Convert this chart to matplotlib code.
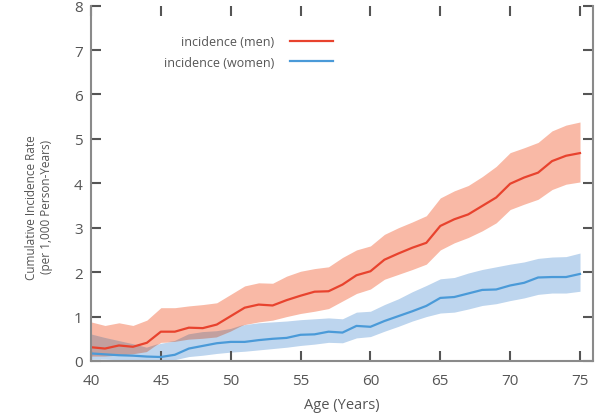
import matplotlib
matplotlib.use("Agg")
import matplotlib.pyplot as plt
import numpy as np

# ages 40..75, one reading per year
age = np.arange(40, 76)

men = [0.31, 0.28, 0.35, 0.32, 0.41, 0.66, 0.66, 0.75, 0.74, 0.82,
       1.01, 1.2, 1.27, 1.25, 1.37, 1.47, 1.56, 1.57, 1.72, 1.93,
       2.02, 2.28, 2.42, 2.55, 2.66, 3.04, 3.19, 3.3, 3.49, 3.68,
       3.99, 4.13, 4.24, 4.5, 4.62, 4.68]
men_hi = [0.88, 0.8, 0.86, 0.8, 0.92, 1.2, 1.2, 1.24, 1.27, 1.31,
          1.5, 1.69, 1.76, 1.75, 1.91, 2.02, 2.08, 2.12, 2.33, 2.5,
          2.59, 2.85, 3.0, 3.13, 3.27, 3.67, 3.83, 3.95, 4.15, 4.38,
          4.69, 4.8, 4.92, 5.18, 5.31, 5.38]
men_lo = [0.1, 0.1, 0.12, 0.15, 0.2, 0.42, 0.43, 0.48, 0.5, 0.53,
          0.66, 0.82, 0.88, 0.92, 1.0, 1.07, 1.12, 1.18, 1.35, 1.52,
          1.62, 1.84, 1.95, 2.06, 2.18, 2.5, 2.66, 2.78, 2.93, 3.11,
          3.41, 3.53, 3.64, 3.86, 3.98, 4.03]

women = [0.17, 0.15, 0.13, 0.12, 0.1, 0.09, 0.14, 0.28, 0.34, 0.4,
         0.43, 0.43, 0.47, 0.5, 0.52, 0.59, 0.6, 0.66, 0.64, 0.79,
         0.77, 0.9, 1.01, 1.12, 1.24, 1.42, 1.44, 1.52, 1.6, 1.61,
         1.7, 1.76, 1.88, 1.89, 1.89, 1.96]
women_hi = [0.6, 0.52, 0.45, 0.38, 0.3, 0.4, 0.45, 0.6, 0.65, 0.67,
            0.72, 0.82, 0.86, 0.88, 0.9, 0.93, 0.95, 0.97, 0.95, 1.1,
            1.12, 1.27, 1.4, 1.56, 1.7, 1.85, 1.88, 1.98, 2.06, 2.12,
            2.18, 2.23, 2.31, 2.34, 2.35, 2.43]
women_lo = [0.04, 0.04, 0.03, 0.03, 0.02, 0.01, 0.03, 0.1, 0.13, 0.17,
            0.2, 0.22, 0.25, 0.28, 0.31, 0.35, 0.38, 0.42, 0.41, 0.52,
            0.55, 0.67, 0.78, 0.9, 1.0, 1.08, 1.1, 1.17, 1.25, 1.29,
            1.36, 1.42, 1.5, 1.53, 1.53, 1.57]

xticks = [40, 45, 50, 55, 60, 65, 70, 75]
yticks = [0, 1, 2, 3, 4, 5, 6, 7, 8]

plt.rcParams['font.family'] = ['Open Sans', 'DejaVu Sans']

fig = plt.figure(figsize=(6, 4.14), dpi=100)
ax = fig.add_axes([91/600, 52/414, 502/600, 355.4/414])

ax.fill_between(age, men_lo, men_hi, color='#f9b9a6', lw=0)
ax.fill_between(age, women_lo, women_hi, color='#bdd5ee', lw=0)
# where the two bands cross, darker tone like the original
ov_lo = np.maximum(men_lo, women_lo)
ov_hi = np.minimum(men_hi, women_hi)
ax.fill_between(age, ov_lo, ov_hi, where=ov_hi > ov_lo, interpolate=True,
                color='#c2a09f', lw=0)
ax.plot(age, men, color='#e8432e', lw=1.6, label='incidence (men)')
ax.plot(age, women, color='#4a9ad8', lw=1.6, label='incidence (women)')

ax.set_xlim(40, 75.93)
ax.set_ylim(0, 8)
ax.set_xticks(xticks)
ax.set_yticks(yticks)

for s in ['left', 'bottom', 'right']:
    ax.spines[s].set_color('#8a8a8a')
    ax.spines[s].set_linewidth(1.5)
ax.spines['top'].set_visible(False)
ax.tick_params(direction='in', length=7, width=1.5, color='#555555',
               labelsize=11, labelcolor='#555555', top=True, right=True)
ax.tick_params(axis='x', pad=9)
ax.tick_params(axis='y', pad=6)

ax.set_xlabel('Age (Years)', fontsize=10.5, color='#555555')
ax.xaxis.set_label_coords(0.5, -0.101)
ax.set_ylabel('Cumulative Incidence Rate\n(per 1,000 Person-Years)',
              fontsize=8.5, color='#555555', linespacing=1.2)
ax.yaxis.set_label_coords(-0.076, 0.435)

leg = ax.legend(loc='upper right', bbox_to_anchor=(339/600, 1 - 30/414),
                bbox_transform=fig.transFigure, frameon=False,
                markerfirst=False, fontsize=9, handlelength=3.45,
                handletextpad=1.2, borderpad=0, labelspacing=0.6)
for t in leg.get_texts():
    t.set_color('#555555')

fig.savefig('out.png', dpi=100)
